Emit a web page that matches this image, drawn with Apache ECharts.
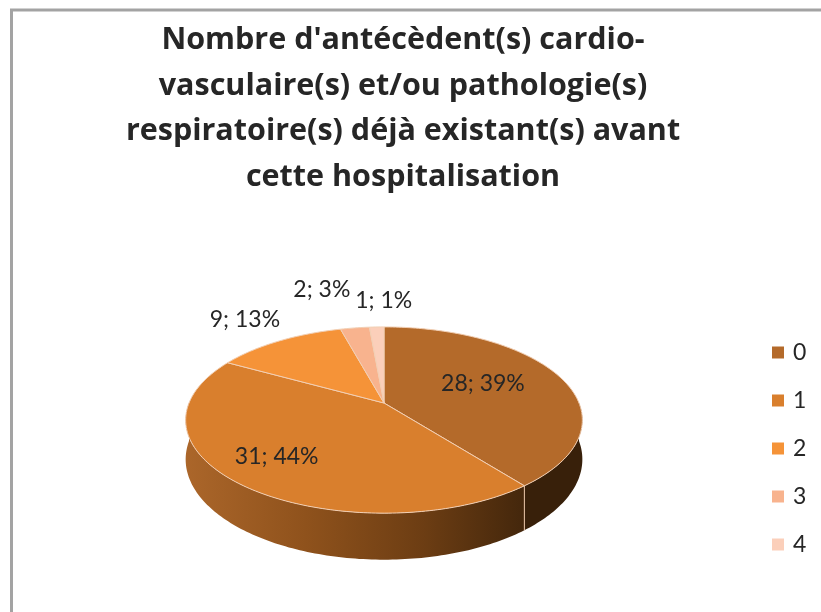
<!DOCTYPE html>
<html>
<head>
<meta charset="utf-8">
<style>
  html, body { margin: 0; padding: 0; background: #fff; }
  #chart { width: 821px; height: 612px; }
</style>
<script src="https://cdn.jsdelivr.net/npm/echarts@6/dist/echarts.min.js"></script>
</head>
<body>
<div id="chart"></div>
<script>
var categories = ["0", "1", "2", "3", "4"];
var counts = [28, 31, 9, 2, 1];
var percents = [39, 44, 13, 3, 1];
var colors = ["#b46a2a", "#d97f2d", "#f59338", "#f8b38e", "#fbcfba"];

// label placement: fraction of the radius along the slice middle, plus a small nudge
var labelRadius = [0.56, 0.7, 1.33, 1.53, 1.35];
var labelNudgeX = [-1, -9, -5, -21, 9];
var labelNudgeY = [-4, 1, -4, -7, -5];

// tilted disc, the back of the pie is further away so the apex sits above the ellipse centre
var apexX = 384, apexY = 403;
var radiusX = 195, radiusY = 90, persp = 0.183, depth = 38;

var total = counts.reduce(function (a, b) { return a + b; }, 0);

function project(deg, r, drop) {
  var t = deg * Math.PI / 180;
  var X = Math.sin(t) * r, Y = -Math.cos(t) * r;
  var s = 1 / (1 - persp * Y);
  return [apexX + radiusX * X * s, apexY + radiusY * Y * s + (drop ? depth * s : 0)];
}

function arc(from, to, drop) {
  var pts = [];
  for (var d = from; d < to; d += 1) pts.push(project(d, 1, drop));
  pts.push(project(to, 1, drop));
  return pts;
}

var wallGradient = new echarts.graphic.LinearGradient(186, 0, 583, 0, [
  { offset: 0, color: "#ab662a" },
  { offset: 0.3, color: "#8f521c" },
  { offset: 0.6, color: "#6c3d13" },
  { offset: 0.85, color: "#44270c" },
  { offset: 1, color: "#3a2009" }
], true);

function renderSlice(index) {
  var before = counts.slice(0, index).reduce(function (a, b) { return a + b; }, 0);
  var a0 = before / total * 360;
  var a1 = (before + counts[index]) / total * 360;
  var children = [];

  // outer wall, only the part facing the viewer
  var w0 = Math.max(a0, 90), w1 = Math.min(a1, 270);
  if (w1 > w0) {
    children.push({
      type: "polygon",
      shape: { points: arc(w0, w1, false).concat(arc(w0, w1, true).reverse()) },
      style: { fill: index === 0 ? "#38200a" : wallGradient }
    });
    if (a0 > 90 && a0 < 270) {
      children.push({
        type: "line",
        shape: {
          x1: project(a0, 1, false)[0], y1: project(a0, 1, false)[1],
          x2: project(a0, 1, true)[0], y2: project(a0, 1, true)[1]
        },
        style: { stroke: "#e9c4a6", lineWidth: 1 }
      });
    }
  }

  // top face
  children.push({
    type: "polygon",
    shape: { points: [[apexX, apexY]].concat(arc(a0, a1, false)) },
    style: { fill: colors[index], stroke: "#f2cfb4", lineWidth: 1, lineJoin: "round" }
  });
  return { type: "group", children: children };
}

function renderLabel(index) {
  var before = counts.slice(0, index).reduce(function (a, b) { return a + b; }, 0);
  var mid = (before + counts[index] / 2) / total * 360;
  var p = project(mid, labelRadius[index], false);
  return {
    type: "text",
    style: {
      x: p[0] + labelNudgeX[index],
      y: p[1] + labelNudgeY[index],
      text: counts[index] + "; " + percents[index] + "%",
      fill: "#262626",
      font: "23px Lato",
      align: "center",
      verticalAlign: "middle"
    }
  };
}

var series = categories.map(function (name, i) {
  return {
    name: name,
    type: "custom",
    coordinateSystem: "none",
    silent: true,
    itemStyle: { color: colors[i] },
    data: [counts[i]],
    renderItem: function () { return renderSlice(i); }
  };
});

// labels last so no slice paints over them
series.push({
  name: "labels",
  type: "custom",
  coordinateSystem: "none",
  silent: true,
  z: 5,
  data: counts,
  renderItem: function (params) { return renderLabel(params.dataIndex); }
});

var chart = echarts.init(document.getElementById("chart"), null, { renderer: "canvas" });
chart.setOption({
  animation: false,
  backgroundColor: "#fff",
  color: colors,
  title: {
    text: "Nombre d'antécèdent(s) cardio-\nvasculaire(s) et/ou pathologie(s)\nrespiratoire(s) déjà existant(s) avant\ncette hospitalisation",
    left: 398,
    top: 13,
    textAlign: "center",
    textStyle: {
      fontFamily: "Open Sans",
      fontSize: 30.5,
      fontWeight: "bold",
      color: "#262626",
      lineHeight: 45.5
    }
  },
  legend: {
    data: categories,
    orient: "vertical",
    left: 767,
    top: 336,
    itemWidth: 12,
    itemHeight: 12,
    itemGap: 25,
    icon: "rect",
    selectedMode: false,
    textStyle: { fontFamily: "Lato", fontSize: 23, color: "#262626", padding: [0, 0, 0, 4] }
  },
  graphic: [{
    type: "rect",
    shape: { x: 11.5, y: 10, width: 900, height: 800 },
    style: { fill: "none", stroke: "#a3a3a3", lineWidth: 3 },
    silent: true,
    z: -1
  }],
  series: series
});
</script>
</body>
</html>
